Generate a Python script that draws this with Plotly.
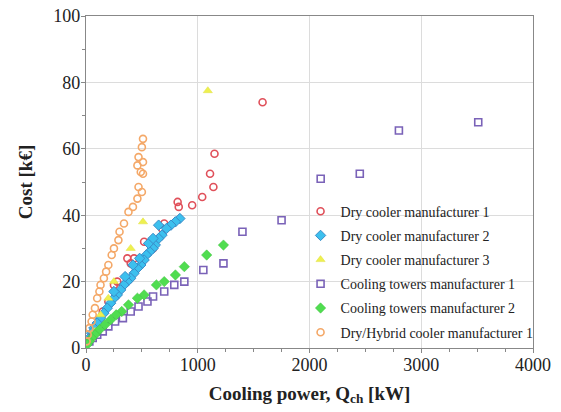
import plotly.graph_objects as go

# Dry cooler manufacturer 1
dc1_x = [1580, 1150, 1110, 1140, 1040, 950, 820, 830, 700, 680, 600, 520, 430, 400, 370, 280, 250, 200, 150]
dc1_y = [74, 58.5, 52.5, 48.5, 45.5, 43, 44, 42.5, 37.5, 36, 30, 32, 27, 25.5, 27, 20, 19, 14, 11]
# Dry cooler manufacturer 2
dc2_x = [840, 800, 760, 720, 680, 650, 620, 600, 570, 540, 520, 490, 460, 430, 400, 370, 340, 310, 280, 250,
         220, 190, 160, 130, 100, 70, 50, 30, 15, 650, 560, 480, 420, 600, 350, 250]
dc2_y = [39, 38, 37, 36, 34, 33, 31, 30, 29, 28, 26.5, 25, 24, 22.5, 21, 20, 19, 17.5, 16, 15,
         13.5, 12, 10.5, 9, 7.5, 6, 4.5, 3, 2, 37, 31.5, 27, 25, 33, 21.5, 17]
# Dry cooler manufacturer 3
dc3_x = [1090, 510, 400, 250, 200, 130, 80, 50]
dc3_y = [77.5, 38, 30, 20, 15, 10, 5, 3]
# Cooling towers manufacturer 1
ct1_x = [3510, 2800, 2450, 2100, 1750, 1400, 1230, 1050, 880, 790, 700, 600, 550, 470, 400, 330, 260, 200, 150, 100, 60, 30]
ct1_y = [68, 65.5, 52.5, 51, 38.5, 35, 25.5, 23.5, 20, 19, 17, 15.5, 14, 12.5, 11, 9, 8, 6.5, 5, 4, 3, 2]
# Cooling towers manufacturer 2
ct2_x = [1230, 1080, 880, 800, 700, 630, 520, 460, 380, 320, 270, 220, 170, 120, 80, 50, 30, 10]
ct2_y = [31, 28, 24.5, 22, 20, 19, 16, 15, 13, 11, 10, 8.5, 7, 5.5, 4, 3, 2, 1]
# Dry/Hybrid cooler manufacturer 1
dh_x = [510, 500, 470, 510, 460, 490, 510, 470, 500, 460, 420, 380, 340, 300, 290, 250, 230, 200, 180, 160,
        130, 120, 100, 80, 60, 50, 30, 15, 5]
dh_y = [63, 60.5, 57.5, 56, 55, 53, 52.5, 48.5, 47, 45, 42.5, 41, 37.5, 35, 32.5, 30, 28, 25, 23, 21,
        19, 17, 15, 12, 10, 8, 6, 4, 2]

series = [
    ("Dry cooler manufacturer 1", dc1_x, dc1_y, dict(symbol="circle-open", color="#e0505a", size=7, line=dict(width=1.6, color="#e0505a"))),
    ("Dry cooler manufacturer 2", dc2_x, dc2_y, dict(symbol="diamond", color="#3cc0ee", size=8, line=dict(width=1, color="#3a8cc8"))),
    ("Dry cooler manufacturer 3", dc3_x, dc3_y, dict(symbol="triangle-up", color="#eef050", size=8, line=dict(width=0.5, color="#e0e040"))),
    ("Cooling towers manufacturer 1", ct1_x, ct1_y, dict(symbol="square-open", color="#7a62b8", size=7, line=dict(width=1.6, color="#7a62b8"))),
    ("Cooling towers manufacturer 2", ct2_x, ct2_y, dict(symbol="diamond", color="#50dd50", size=8, line=dict(width=0.5, color="#40c040"))),
    ("Dry/Hybrid cooler manufacturer 1", dh_x, dh_y, dict(symbol="circle-open", color="#f4a868", size=7, line=dict(width=1.6, color="#f4a868"))),
]

fig = go.Figure()
for i, (name, xs, ys, mk) in enumerate(series):
    fig.add_trace(go.Scatter(x=xs, y=ys, mode="markers", name=name, marker=mk, legendgroup=str(i)))

font_family = "Liberation Serif"
fig.update_layout(
    width=561, height=412,
    margin=dict(l=86, r=28, t=16, b=64),
    paper_bgcolor="white", plot_bgcolor="white",
    font=dict(family=font_family, size=14, color="#222"),
    showlegend=True,
    legend=dict(x=0.48, y=0.459, xanchor="left", yanchor="top", bgcolor="rgba(255,255,255,0)",
                font=dict(family=font_family, size=14, color="#222"),
                traceorder="grouped", tracegroupgap=3, itemwidth=30),
    xaxis=dict(range=[0, 4000], dtick=1000, showgrid=True, gridcolor="#dcdcdc", gridwidth=1,
               showline=True, linecolor="#888", linewidth=1.2, mirror=True, ticks="outside", ticklen=4,
               tickcolor="#888", zeroline=False, automargin=False, ticklabelstandoff=-4,
               ticklabeloverflow="allow",
               minor=dict(dtick=250, ticks="outside", ticklen=3, tickcolor="#888", showgrid=False),
               title=dict(text="<b>Cooling power, Q<sub>ch</sub> [kW]</b>", font=dict(family=font_family, size=19), standoff=12),
               tickfont=dict(family=font_family, size=18)),
    yaxis=dict(range=[0, 100], dtick=20, showgrid=True, gridcolor="#dcdcdc", gridwidth=1,
               showline=True, linecolor="#888", linewidth=1.2, mirror=True, ticks="outside", ticklen=4,
               tickcolor="#888", zeroline=False, automargin=False, ticklabelstandoff=-3,
               ticklabeloverflow="allow",
               minor=dict(dtick=10, ticks="outside", ticklen=3, tickcolor="#888", showgrid=False),
               title=dict(text="<b>Cost [k€]</b>", font=dict(family=font_family, size=19), standoff=15),
               tickfont=dict(family=font_family, size=18)),
)

fig.write_html("out.html", config={"displayModeBar": False},
               post_script="document.body.style.margin='0px';")
